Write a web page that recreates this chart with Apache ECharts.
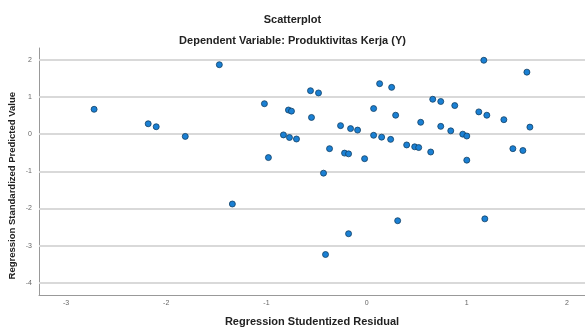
<!DOCTYPE html>
<html>
<head>
<meta charset="utf-8">
<script src="https://cdn.jsdelivr.net/npm/echarts@6/dist/echarts.min.js"></script>
<style>
  html, body { margin: 0; padding: 0; background: #fff; }
  #chart { width: 585px; height: 327px; }
</style>
</head>
<body>
<div id="chart"></div>
<script>
// studentized residual (x) vs standardized predicted value (y)
const residuals = [
  -2.72, -2.18, -2.10, -1.81, -1.47, -1.02, -0.56, -0.48, -0.78, -0.75,
  -0.55, -0.26, -0.16, -0.09, 0.07, 0.13, 0.07, -0.83, -0.77, -0.70,
  -0.37, -0.22, -0.18, -0.02, -0.98, -0.43, 1.17, 1.60, 0.25, 0.66,
  0.74, 0.88, 1.12, 1.20, 1.37, 1.63, 0.29, 0.54, 0.74, 0.84,
  0.96, 1.00, 0.15, 0.24, 0.40, 0.48, 0.52, 0.64, 1.00, 1.46,
  1.56, -1.34, -0.18, -0.41, 0.31, 1.18
];
const predicted = [
  0.67, 0.28, 0.20, -0.06, 1.87, 0.82, 1.17, 1.11, 0.65, 0.62,
  0.45, 0.23, 0.15, 0.11, 0.69, 1.36, -0.03, -0.02, -0.09, -0.13,
  -0.39, -0.51, -0.53, -0.66, -0.63, -1.05, 1.99, 1.67, 1.26, 0.94,
  0.88, 0.77, 0.60, 0.51, 0.39, 0.19, 0.51, 0.32, 0.21, 0.09,
  0.00, -0.05, -0.08, -0.14, -0.29, -0.34, -0.36, -0.48, -0.70, -0.39,
  -0.44, -1.88, -2.68, -3.24, -2.33, -2.28
];
const xTicks = [-3, -2, -1, 0, 1, 2];
const yTicks = [2, 1, 0, -1, -2, -3, -4];

const points = residuals.map((x, i) => [x, predicted[i]]);

const chart = echarts.init(document.getElementById('chart'));
chart.setOption({
  animation: false,
  textStyle: { fontFamily: 'Liberation Sans, Arial, sans-serif' },
  title: [
    {
      text: 'Scatterplot',
      left: 'center', top: 9,
      textStyle: { fontSize: 11, fontWeight: 'bold', color: '#222' }
    },
    {
      text: 'Dependent Variable: Produktivitas Kerja (Y)',
      left: 'center', top: 30,
      textStyle: { fontSize: 11, fontWeight: 'bold', color: '#222' }
    }
  ],
  graphic: [{
    type: 'text',
    left: 7, top: 92,
    rotation: Math.PI / 2,
    style: {
      text: 'Regression Standardized Predicted Value',
      fontSize: 9.5, fontWeight: 'bold', fill: '#222',
      fontFamily: 'Liberation Sans, Arial, sans-serif'
    }
  }],
  grid: { left: 39, top: 48, right: 0, bottom: 32, outerBoundsMode: 'none', containLabel: false },
  xAxis: {
    type: 'value',
    min: -3.27, max: 2.18,
    name: 'Regression Studentized Residual',
    nameLocation: 'middle', nameGap: 21,
    nameTextStyle: { fontSize: 11, fontWeight: 'bold', color: '#222', verticalAlign: 'top' },
    axisLine: { show: true, onZero: false, lineStyle: { color: '#999', width: 1 } },
    axisTick: { show: false },
    splitLine: { show: false },
    axisLabel: {
      fontSize: 7, color: '#666', margin: 5,
      customValues: xTicks
    }
  },
  yAxis: {
    type: 'value',
    min: -4.33, max: 2.32,
    axisLine: { show: true, onZero: false, lineStyle: { color: '#999', width: 1 } },
    axisTick: { show: false },
    splitLine: { show: false },
    axisLabel: {
      fontSize: 7, color: '#666', margin: 7,
      customValues: yTicks
    }
  },
  series: [
    {
      type: 'scatter',
      data: points,
      symbolSize: 6,
      itemStyle: { color: '#1a80d4', borderColor: '#123f63', borderWidth: 0.8, opacity: 1 },
      markLine: {
        silent: true,
        symbol: 'none',
        label: { show: false },
        lineStyle: { color: '#d9d9d9', width: 2, type: 'solid' },
        data: yTicks.map(v => ({ yAxis: v })),
        z: 1
      },
      z: 3
    }
  ]
});
</script>
</body>
</html>
